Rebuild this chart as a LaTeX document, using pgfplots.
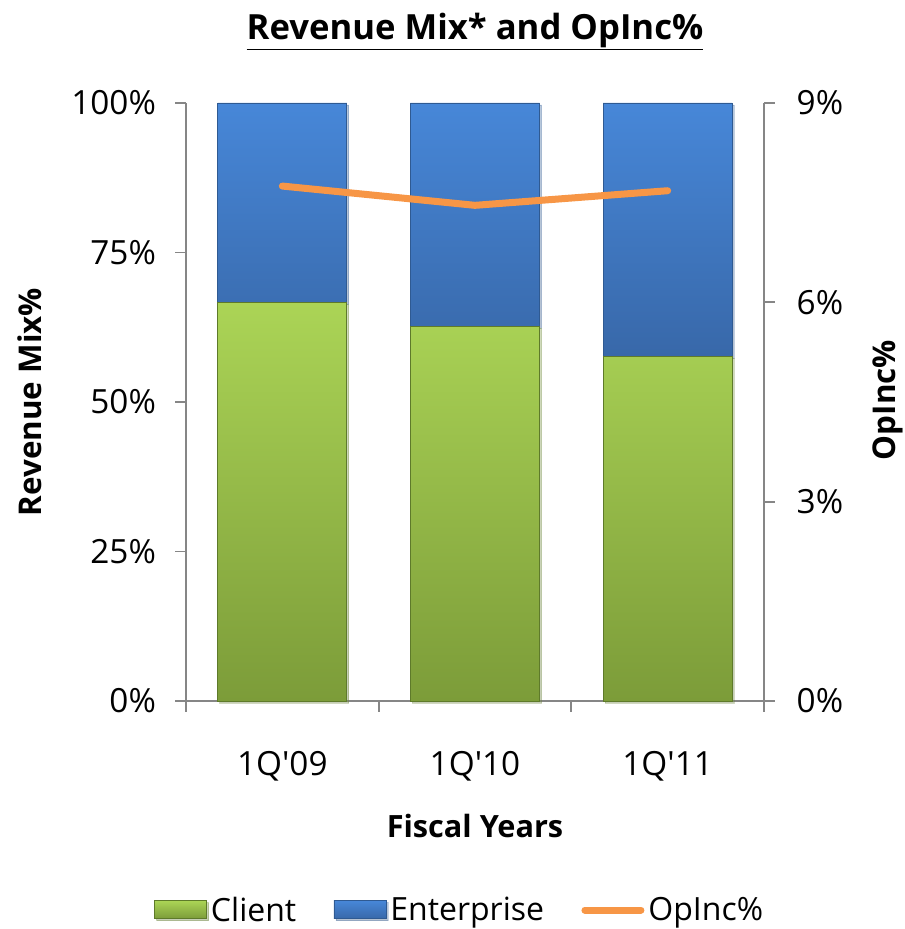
\documentclass[border=0pt]{standalone}
\usepackage{pgfplots}
\pgfplotsset{compat=1.18}
\usepackage{fontspec}
\setmainfont{Open Sans}
\usetikzlibrary{shadows}
\definecolor{axisgray}{HTML}{868686}
\definecolor{gtop}{HTML}{ABD456}
\definecolor{gbot}{HTML}{7C9C39}
\definecolor{gedge}{HTML}{5E7A2A}
\definecolor{btop}{HTML}{4787D8}
\definecolor{bbot}{HTML}{3868A9}
\definecolor{bedge}{HTML}{2F5A92}
\definecolor{oline}{HTML}{F79646}
\pgfplotsset{
  barleg/.style={legend image code/.code={\draw[##1] (0pt,-6.5pt) rectangle (39pt,7pt);}},
  lineleg/.style={legend image code/.code={\draw[##1] (0pt,0pt) -- (42pt,0pt);}},
  common/.style={
    at={(0,0)}, anchor=south west,
    scale only axis, width=433.5pt, height=448.5pt,
    xmin=-0.5, xmax=2.5,
    axis line style={axisgray, line width=1.3pt},
    tick align=outside, major tick length=8pt,
    tick style={axisgray, line width=1.3pt},
    /pgf/number format/assume math mode=true,
    tick label style={font=\fontsize{25}{29}\selectfont},
    clip=false,
  },
}
\begin{document}
\begin{tikzpicture}
\begin{axis}[common,
  ymin=0, ymax=100,
  ybar stacked, bar width=0.67,
  axis x line*=bottom, axis y line*=left,
  ytick={0,25,50,75,100},
  yticklabel={\pgfmathprintnumber{\tick}\%},
  yticklabel style={xshift=-11pt},
  xtick={0,1,2},
  xticklabels={1Q\textquotesingle 09,1Q\textquotesingle 10,1Q\textquotesingle 11},
  xtick style={draw=none},
  xticklabel style={yshift=-26pt},
  extra x ticks={-0.5,0.5,1.5,2.5},
  extra x tick labels={},
  extra x tick style={xtick style={draw=axisgray, line width=1.3pt}, major tick length=8pt, tick align=outside},
  legend columns=3,
  legend style={at={(axis description cs:0.474,-0.3495)}, anchor=center, draw=none, fill=none,
    font=\fontsize{24}{28}\selectfont,
    /tikz/every odd column/.append style={column sep=1pt},
    /tikz/every even column/.append style={column sep=26pt}},
]
\addplot[top color=gtop, bottom color=gbot, draw=gedge, line width=0.6pt,
  drop shadow={shadow xshift=1.5pt, shadow yshift=-1.5pt, opacity=0.25}, barleg]
  coordinates {(0,66.6) (1,62.7) (2,57.6)};
\addlegendentry{Client}
\addplot[top color=btop, bottom color=bbot, draw=bedge, line width=0.6pt,
  drop shadow={shadow xshift=1.5pt, shadow yshift=-1.5pt, opacity=0.25}, barleg]
  coordinates {(0,33.4) (1,37.3) (2,42.4)};
\addlegendentry{Enterprise}
\addlegendimage{oline, line width=5.25pt, line cap=round, lineleg}
\addlegendentry{OpInc\%}
\end{axis}
\begin{axis}[common,
  ymin=0, ymax=9,
  axis y line*=right, axis x line=none,
  ytick={0,3,6,9},
  yticklabel={\pgfmathprintnumber{\tick}\%},
  yticklabel style={xshift=13pt},
]
\addplot[oline, line width=5.25pt, line cap=round, line join=round, mark=none]
  coordinates {(0,7.75) (1,7.46) (2,7.68)};
\end{axis}
\node[font=\bfseries\fontsize{26}{30}\selectfont] at (216.75pt,502pt) {\underline{Revenue Mix* and OpInc\%}};
\node[font=\bfseries\fontsize{23.5}{27}\selectfont, rotate=90] at (-117pt,224.25pt) {Revenue Mix\%};
\node[font=\bfseries\fontsize{23.5}{27}\selectfont, rotate=90] at (526.5pt,225.75pt) {OpInc\%};
\node[font=\bfseries\fontsize{23}{27}\selectfont] at (216.75pt,-93.75pt) {Fiscal Years};
\pgfresetboundingbox
\path (-139.5pt,-171pt) rectangle (538.5pt,525.75pt);
\end{tikzpicture}
\end{document}
